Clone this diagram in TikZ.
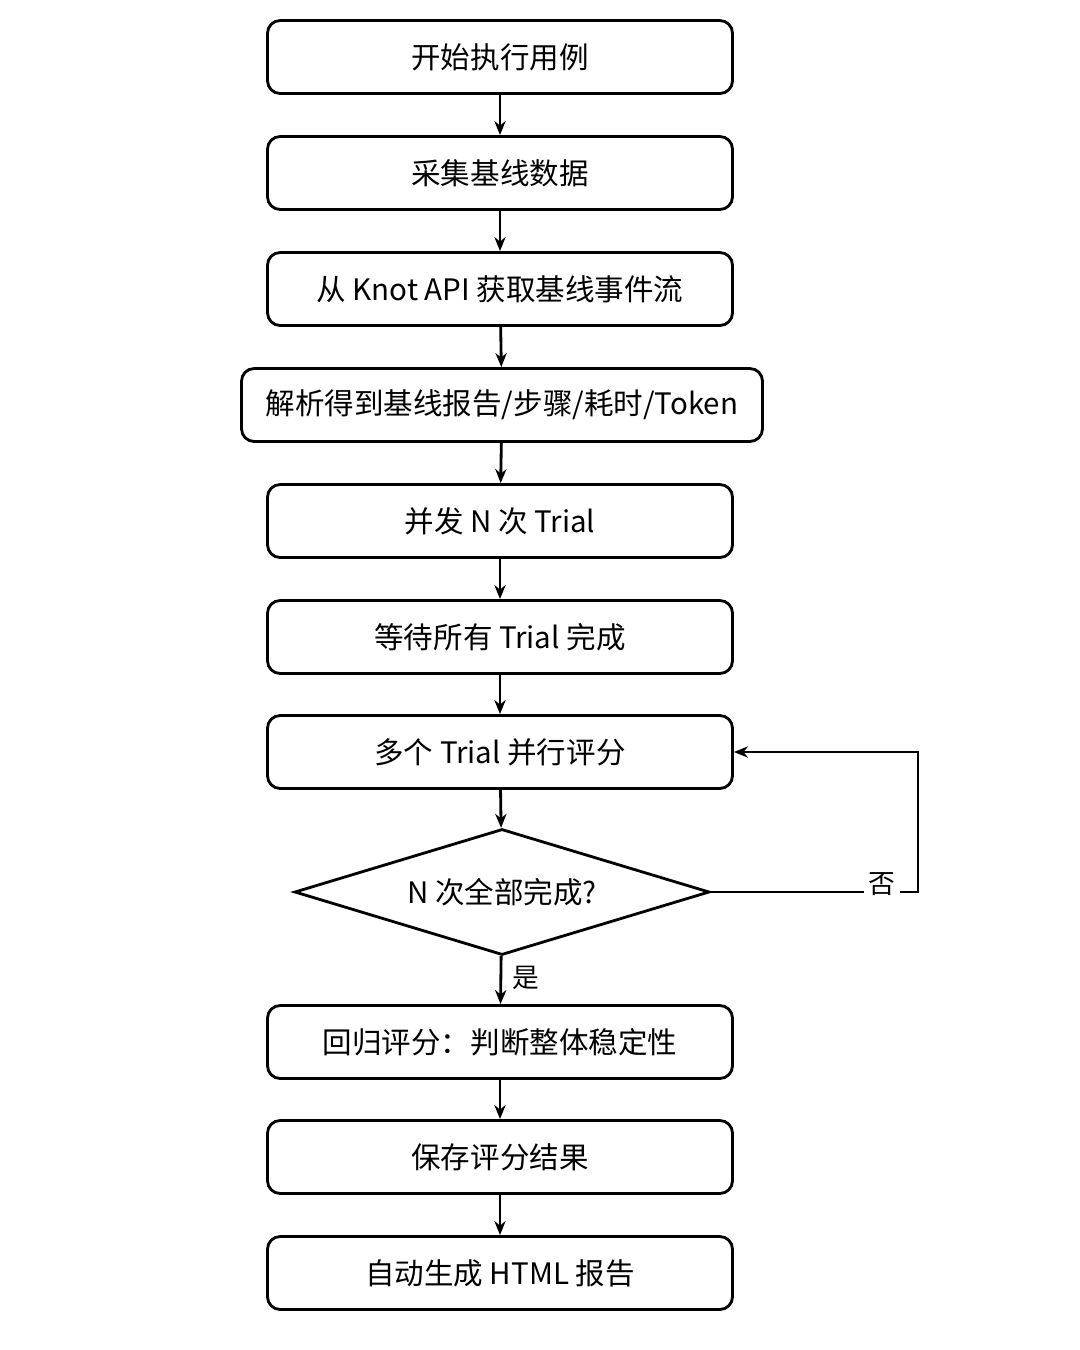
\documentclass[tikz,border=0pt]{standalone}
\usepackage{fontspec}
\setmainfont{Noto Sans CJK SC}
\usetikzlibrary{shapes.geometric,arrows.meta}
\begin{document}
\begin{tikzpicture}[x=0.025cm,y=-0.025cm,
  box/.style={draw,line width=2pt,rounded corners=9pt,minimum width=465*0.025cm,minimum height=73*0.025cm,font=\fontsize{21}{24}\selectfont,inner sep=0pt},
  arr/.style={-{Stealth[length=10pt,width=8pt]},line width=2pt},
  lab/.style={font=\fontsize{19}{22}\selectfont}]
\useasboundingbox (0,0) rectangle (1080,1350);
\node[box] (a) at (500,57) {开始执行用例};
\node[box] (b) at (500,173) {采集基线数据};
\node[box] (c) at (500,289) {从 Knot API 获取基线事件流};
\node[box,minimum width=521*0.025cm] (d) at (502,405) {解析得到基线报告/步骤/耗时/Token};
\node[box] (e) at (500,521) {并发 N 次 Trial};
\node[box] (f) at (500,637) {等待所有 Trial 完成};
\node[box] (g) at (500,752) {多个 Trial 并行评分};
\node[draw,line width=2pt,diamond,aspect=3.3,minimum width=415*0.025cm,minimum height=126*0.025cm,inner sep=0pt,font=\fontsize{21}{24}\selectfont] (q) at (502,892) {N 次全部完成?};
\node[box] (h) at (500,1042) {回归评分：判断整体稳定性};
\node[box] (i) at (500,1157) {保存评分结果};
\node[box] (j) at (500,1273) {自动生成 HTML 报告};
\draw[arr] (a) -- (b);
\draw[arr] (b) -- (c);
\draw[arr] (c) -- (d);
\draw[arr] (d) -- (e);
\draw[arr] (e) -- (f);
\draw[arr] (f) -- (g);
\draw[arr] (g) -- (q);
\draw[arr] (q) -- node[lab,right=4pt,pos=0.45]{是} (h);
\draw[arr] (h) -- (i);
\draw[arr] (i) -- (j);
\coordinate (r1) at (918,892);
\coordinate (r2) at (918,752);
\draw[arr] (q.east) -- (r1) -- (r2) -- (g.east);
\node[lab,fill=white,inner sep=3pt] (no) at (882,884) {否};
\end{tikzpicture}
\end{document}
